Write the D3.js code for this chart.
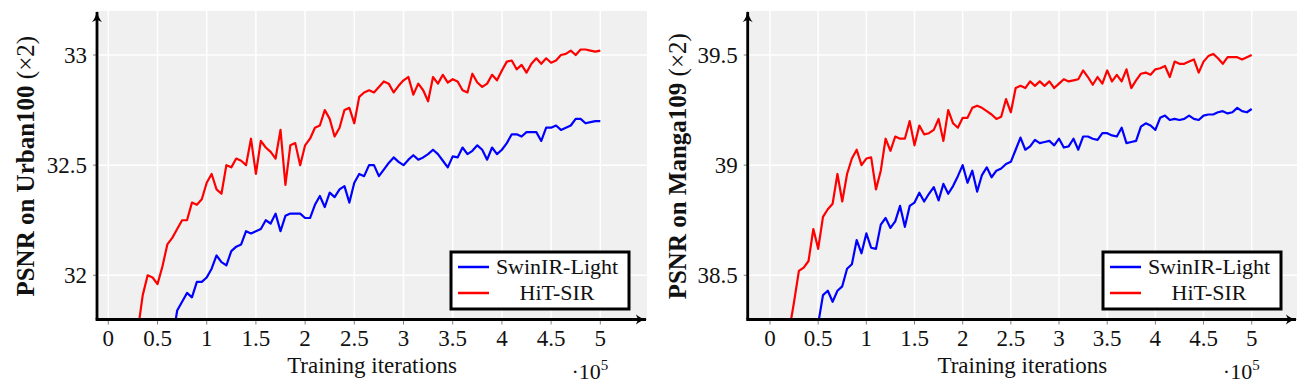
<!DOCTYPE html>
<html>
<head>
<meta charset="utf-8">
<script src="https://cdnjs.cloudflare.com/ajax/libs/d3/7.8.5/d3.min.js"></script>
<style>
  body { margin: 0; background: #fff; }
</style>
</head>
<body>
<svg id="chart" width="1311" height="386" font-family="'Liberation Serif', 'DejaVu Serif', serif"></svg>
<script>
// training iterations (x 10^5)
var iterations = [
  0.2, 0.25, 0.3, 0.35, 0.4, 0.45, 0.5, 0.55, 0.6, 0.65,
  0.7, 0.75, 0.8, 0.85, 0.9, 0.95, 1.0, 1.05, 1.1, 1.15,
  1.2, 1.25, 1.3, 1.35, 1.4, 1.45, 1.5, 1.55, 1.6, 1.65,
  1.7, 1.75, 1.8, 1.85, 1.9, 1.95, 2.0, 2.05, 2.1, 2.15,
  2.2, 2.25, 2.3, 2.35, 2.4, 2.45, 2.5, 2.55, 2.6, 2.65,
  2.7, 2.75, 2.8, 2.85, 2.9, 2.95, 3.0, 3.05, 3.1, 3.15,
  3.2, 3.25, 3.3, 3.35, 3.4, 3.45, 3.5, 3.55, 3.6, 3.65,
  3.7, 3.75, 3.8, 3.85, 3.9, 3.95, 4.0, 4.05, 4.1, 4.15,
  4.2, 4.25, 4.3, 4.35, 4.4, 4.45, 4.5, 4.55, 4.6, 4.65,
  4.7, 4.75, 4.8, 4.85, 4.9, 4.95, 5.0
];

// PSNR on Urban100 (x2)
var urbanSwin = [
  null, null, null, null, null, null, null, null, null, 31.70,
  31.84, 31.88, 31.92, 31.90, 31.97, 31.97, 31.99, 32.03, 32.09, 32.06,
  32.045, 32.11, 32.13, 32.14, 32.20, 32.19, 32.20, 32.21, 32.25, 32.235,
  32.28, 32.20, 32.27, 32.28, 32.28, 32.28, 32.26, 32.26, 32.32, 32.36,
  32.31, 32.375, 32.355, 32.39, 32.405, 32.33, 32.42, 32.46, 32.45, 32.50,
  32.50, 32.45, 32.48, 32.51, 32.535, 32.515, 32.50, 32.525, 32.545, 32.525,
  32.535, 32.55, 32.57, 32.55, 32.52, 32.49, 32.54, 32.535, 32.58, 32.55,
  32.565, 32.59, 32.57, 32.525, 32.58, 32.55, 32.57, 32.60, 32.64, 32.64,
  32.63, 32.65, 32.65, 32.65, 32.61, 32.67, 32.67, 32.68, 32.66, 32.67,
  32.68, 32.71, 32.71, 32.69, 32.695, 32.70, 32.70
];
var urbanHit = [
  null, null, 31.75, 31.91, 32.00, 31.99, 31.96, 32.04, 32.14, 32.17,
  32.21, 32.25, 32.25, 32.33, 32.32, 32.345, 32.42, 32.46, 32.39, 32.37,
  32.50, 32.49, 32.53, 32.52, 32.50, 32.62, 32.46, 32.61, 32.58, 32.56,
  32.53, 32.66, 32.41, 32.59, 32.60, 32.50, 32.59, 32.62, 32.67, 32.68,
  32.75, 32.71, 32.63, 32.67, 32.75, 32.76, 32.69, 32.81, 32.83, 32.84,
  32.83, 32.855, 32.88, 32.87, 32.83, 32.86, 32.885, 32.90, 32.82, 32.87,
  32.84, 32.79, 32.90, 32.87, 32.91, 32.875, 32.89, 32.88, 32.84, 32.83,
  32.915, 32.875, 32.855, 32.87, 32.91, 32.885, 32.93, 32.97, 32.975, 32.935,
  32.955, 32.92, 32.96, 32.985, 32.96, 32.985, 32.965, 32.975, 33.0, 33.005,
  33.02, 33.0, 33.025, 33.025, 33.02, 33.015, 33.02
];

// PSNR on Manga109 (x2)
var mangaSwin = [
  null, null, null, null, null, null, 38.28, 38.41, 38.43, 38.38,
  38.43, 38.45, 38.53, 38.55, 38.66, 38.60, 38.69, 38.625, 38.62, 38.73,
  38.76, 38.715, 38.745, 38.815, 38.72, 38.815, 38.83, 38.875, 38.835, 38.87,
  38.90, 38.84, 38.915, 38.87, 38.905, 38.95, 39.00, 38.92, 38.975, 38.88,
  38.955, 38.99, 38.945, 38.975, 38.985, 39.005, 39.015, 39.07, 39.125, 39.07,
  39.085, 39.115, 39.10, 39.105, 39.11, 39.09, 39.12, 39.08, 39.085, 39.12,
  39.07, 39.13, 39.13, 39.12, 39.115, 39.145, 39.145, 39.135, 39.13, 39.17,
  39.10, 39.105, 39.11, 39.175, 39.19, 39.18, 39.16, 39.215, 39.225, 39.205,
  39.21, 39.205, 39.21, 39.225, 39.21, 39.205, 39.225, 39.23, 39.23, 39.24,
  39.245, 39.235, 39.24, 39.26, 39.245, 39.24, 39.255
];
var mangaHit = [
  38.25, 38.38, 38.52, 38.535, 38.565, 38.71, 38.62, 38.765, 38.80, 38.825,
  38.96, 38.835, 38.96, 39.03, 39.07, 39.00, 39.03, 39.035, 38.89, 38.975,
  39.12, 39.065, 39.13, 39.12, 39.12, 39.20, 39.09, 39.18, 39.14, 39.145,
  39.16, 39.21, 39.11, 39.25, 39.19, 39.17, 39.215, 39.215, 39.26, 39.27,
  39.26, 39.245, 39.23, 39.21, 39.22, 39.30, 39.24, 39.35, 39.36, 39.35,
  39.38, 39.36, 39.38, 39.36, 39.38, 39.35, 39.37, 39.39, 39.38, 39.385,
  39.39, 39.43, 39.40, 39.365, 39.40, 39.37, 39.43, 39.38, 39.41, 39.38,
  39.435, 39.35, 39.385, 39.415, 39.42, 39.41, 39.435, 39.44, 39.45, 39.40,
  39.47, 39.46, 39.46, 39.47, 39.48, 39.42, 39.47, 39.495, 39.505, 39.485,
  39.46, 39.49, 39.49, 39.49, 39.48, 39.49, 39.50
];

var xTicks = [0, 0.5, 1, 1.5, 2, 2.5, 3, 3.5, 4, 4.5, 5];
var xTickLabels = ["0", "0.5", "1", "1.5", "2", "2.5", "3", "3.5", "4", "4.5", "5"];
var urbanTicks = [32, 32.5, 33];
var urbanTickLabels = ["32", "32.5", "33"];
var mangaTicks = [38.5, 39, 39.5];
var mangaTickLabels = ["38.5", "39", "39.5"];
var seriesNames = ["SwinIR-Light", "HiT-SIR"];
var seriesColors = ["#0000ff", "#ff0000"];

var svg = d3.select("#chart");

svg.append("defs").append("marker")
    .attr("id", "arrow")
    .attr("viewBox", "0 -5 10 10")
    .attr("refX", 9)
    .attr("refY", 0)
    .attr("markerWidth", 4)
    .attr("markerHeight", 4)
    .attr("markerUnits", "strokeWidth")
    .attr("orient", "auto")
  .append("path")
    .attr("d", "M0,-4.5Q4,-1 10,0Q4,1 0,4.5L2,0Z")
    .attr("fill", "#000");

function drawPanel(p) {
  var g = svg.append("g");
  var x = d3.scaleLinear().domain([0, 5]).range([p.x0, p.x5]);
  var y = d3.scaleLinear().domain([p.yLo, p.yHi]).range([275.3, 55]);
  var left = p.left, right = p.right, top = 11, bottom = 319.5;

  g.append("rect")
      .attr("x", left).attr("y", top)
      .attr("width", right - left).attr("height", bottom - top)
      .attr("fill", "#f0f0f0");

  g.append("clipPath").attr("id", "clip" + p.id)
    .append("rect")
      .attr("x", left).attr("y", top)
      .attr("width", right - left).attr("height", bottom - top);

  // grid
  g.selectAll(".vgrid").data(xTicks).enter().append("line")
      .attr("x1", function(d) { return x(d); }).attr("x2", function(d) { return x(d); })
      .attr("y1", top).attr("y2", bottom)
      .attr("stroke", "#fff").attr("stroke-width", 1.5);
  g.selectAll(".hgrid").data(p.yTicks).enter().append("line")
      .attr("x1", left).attr("x2", right)
      .attr("y1", function(d) { return y(d); }).attr("y2", function(d) { return y(d); })
      .attr("stroke", "#fff").attr("stroke-width", 1.5);

  // series
  var line = d3.line()
      .defined(function(d) { return d[1] != null; })
      .x(function(d) { return x(d[0]); })
      .y(function(d) { return y(d[1]); });

  var lines = g.append("g").attr("clip-path", "url(#clip" + p.id + ")");
  p.series.forEach(function(vals, i) {
    lines.append("path")
        .datum(iterations.map(function(it, k) { return [it, vals[k]]; }))
        .attr("d", line)
        .attr("fill", "none")
        .attr("stroke", seriesColors[i])
        .attr("stroke-width", 2.2)
        .attr("stroke-linejoin", "round");
  });

  // ticks
  g.selectAll(".xt").data(xTicks).enter().append("line")
      .attr("x1", function(d) { return x(d); }).attr("x2", function(d) { return x(d); })
      .attr("y1", bottom).attr("y2", bottom + 5)
      .attr("stroke", "#808080").attr("stroke-width", 1);
  g.selectAll(".yt").data(p.yTicks).enter().append("line")
      .attr("x1", left - 4).attr("x2", left)
      .attr("y1", function(d) { return y(d); }).attr("y2", function(d) { return y(d); })
      .attr("stroke", "#808080").attr("stroke-width", 1);

  // axis lines with arrows
  g.append("line")
      .attr("x1", left).attr("y1", bottom).attr("x2", left).attr("y2", top + 1)
      .attr("stroke", "#000").attr("stroke-width", 2.8)
      .attr("marker-end", "url(#arrow)");
  g.append("line")
      .attr("x1", left - 1.4).attr("y1", bottom).attr("x2", right - 1).attr("y2", bottom)
      .attr("stroke", "#000").attr("stroke-width", 2.8)
      .attr("marker-end", "url(#arrow)");

  // tick labels
  g.selectAll(".xl").data(xTicks).enter().append("text")
      .attr("x", function(d) { return x(d); })
      .attr("y", 346)
      .attr("text-anchor", "middle")
      .attr("font-size", 23)
      .attr("fill", "#111")
      .text(function(d, i) { return xTickLabels[i]; });
  g.selectAll(".yl").data(p.yTicks).enter().append("text")
      .attr("x", left - 10)
      .attr("y", function(d) { return y(d); })
      .attr("dy", "0.35em")
      .attr("text-anchor", "end")
      .attr("font-size", 23)
      .attr("fill", "#111")
      .text(function(d, i) { return p.yTickLabels[i]; });

  // axis labels
  g.append("text")
      .attr("x", (left + right) / 2)
      .attr("y", 373)
      .attr("text-anchor", "middle")
      .attr("font-size", 23)
      .attr("fill", "#111")
      .text("Training iterations");

  var sc = g.append("text")
      .attr("x", x(5) + 8)
      .attr("y", 379)
      .attr("text-anchor", "end")
      .attr("font-size", 22)
      .attr("fill", "#111");
  sc.append("tspan").text("\u00b710");
  sc.append("tspan").attr("dy", -9).attr("font-size", 15).text("5");

  var yl = g.append("text")
      .attr("transform", "translate(" + p.labelX + "," + ((top + bottom) / 2 + 1) + ") rotate(-90)")
      .attr("text-anchor", "middle")
      .attr("font-size", 25)
      .attr("font-weight", "bold")
      .attr("fill", "#111");
  yl.append("tspan").text(p.label + " ");
  yl.append("tspan").attr("font-weight", "normal").text("(\u00d72)");

  // legend
  var lg = g.append("g").attr("transform", "translate(" + p.legendX + ",252)");
  lg.append("rect")
      .attr("width", 178).attr("height", 57)
      .attr("fill", "#fff").attr("stroke", "#000").attr("stroke-width", 3);
  seriesNames.forEach(function(name, i) {
    var cy = 15 + i * 26;
    lg.append("line")
        .attr("x1", 7).attr("x2", 38).attr("y1", cy).attr("y2", cy)
        .attr("stroke", seriesColors[i]).attr("stroke-width", 2.5);
    lg.append("text")
        .attr("x", 106).attr("y", cy + 7)
        .attr("text-anchor", "middle")
        .attr("font-size", 22)
        .attr("fill", "#111")
        .text(name);
  });
}

drawPanel({
  id: "u", left: 97, right: 647, x0: 108.3, x5: 600.3,
  yLo: 32, yHi: 33, yTicks: urbanTicks, yTickLabels: urbanTickLabels,
  series: [urbanSwin, urbanHit], label: "PSNR on Urban100", labelX: 34, legendX: 451
});
drawPanel({
  id: "m", left: 747.7, right: 1297, x0: 770, x5: 1251.7,
  yLo: 38.5, yHi: 39.5, yTicks: mangaTicks, yTickLabels: mangaTickLabels,
  series: [mangaSwin, mangaHit], label: "PSNR on Manga109", labelX: 686, legendX: 1103
});
</script>
</body>
</html>
